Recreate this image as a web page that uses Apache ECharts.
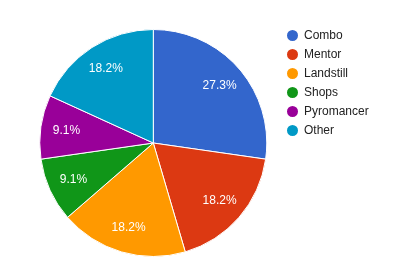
<!DOCTYPE html>
<html><head><meta charset="utf-8">
<script src="https://cdn.jsdelivr.net/npm/echarts@6/dist/echarts.min.js"></script>
<style>html,body{margin:0;padding:0;background:#fff}#c{width:401px;height:274px}</style>
</head><body><div id="c"></div>
<script>
var categories = ['Combo','Mentor','Landstill','Shops','Pyromancer','Other'];
var values = [3,2,2,1,1,2];
var colors = ['#3366cc','#dc3912','#ff9900','#109618','#990099','#0099c6'];

var data = categories.map(function(n,i){return {name:n,value:values[i]};});
var chart = echarts.init(document.getElementById('c'), null, {renderer:'canvas'});
chart.setOption({
  animation:false,
  color: colors,
  legend: {
    orient:'vertical', left:285, top:28, itemWidth:13, itemHeight:13, itemGap:4,
    icon:'circle', selectedMode:false, padding:0,
    textStyle:{fontFamily:'Liberation Sans, Arial', fontSize:12, lineHeight:13, color:'#222'},
    data: categories
  },
  series: [
    {
      type:'pie', center:[153.3,143], radius:[0,113.5], startAngle:90, clockwise:true,
      label:{show:false}, labelLine:{show:false}, silent:true,
      itemStyle:{borderColor:'#fff', borderWidth:1},
      data: data
    },
    {
      type:'pie', center:[153.3,143], radius:[56,113.5], startAngle:90, clockwise:true,
      itemStyle:{color:'rgba(0,0,0,0)', borderWidth:0}, silent:true,
      label:{show:true, position:'inside', color:'#fff', fontFamily:'Liberation Sans, Arial', fontSize:12,
        formatter:function(p){return p.percent.toFixed(1)+'%';}},
      labelLine:{show:false},
      data: data
    }
  ]
});
</script></body></html>
